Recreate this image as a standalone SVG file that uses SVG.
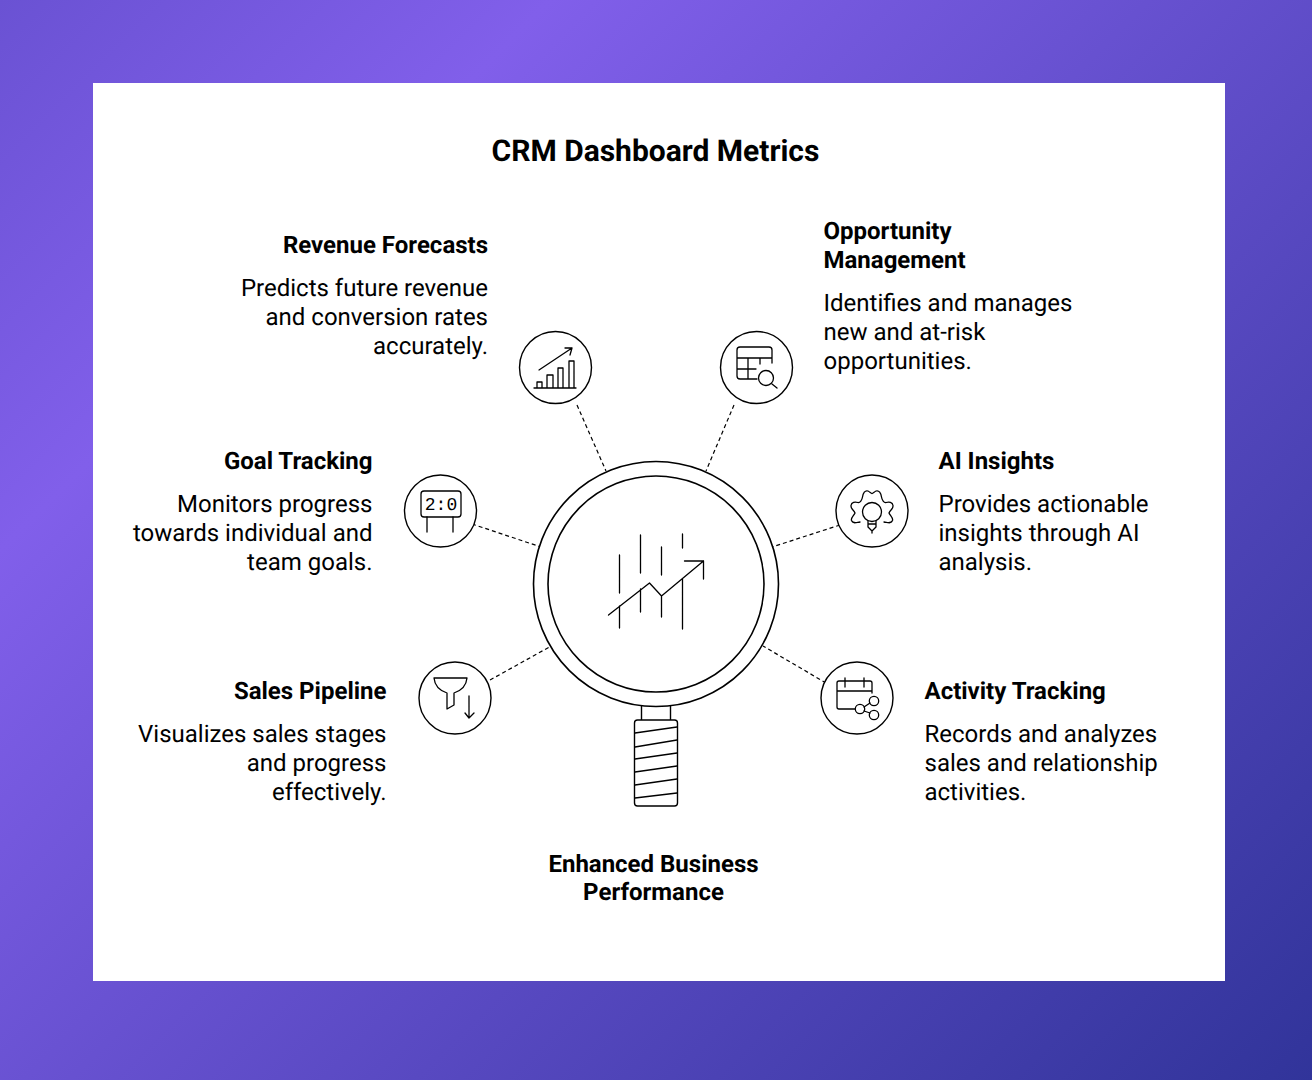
<svg xmlns="http://www.w3.org/2000/svg" width="1312" height="1080" viewBox="0 0 1312 1080">
<style>
text{font-family:Roboto,"Liberation Sans",sans-serif;fill:#000;text-rendering:geometricPrecision}
.t{font-size:30px;font-weight:700}
.h{font-size:24px;font-weight:700}
.b{font-size:24px;font-weight:400}
.e{text-anchor:end}
.m{text-anchor:middle}
.c{fill:#fff;stroke:#000;stroke-width:1.4}
.r{fill:#fff;stroke:#000;stroke-width:1.6}
.i{fill:none;stroke:#000;stroke-width:1.3;stroke-linecap:round;stroke-linejoin:round}
.d{fill:none;stroke:#000;stroke-width:1.2;stroke-dasharray:4 3}
</style>
<defs>
<linearGradient id="bg" gradientUnits="userSpaceOnUse" x1="58" y1="-58" x2="1254" y2="1138">
<stop offset="0" stop-color="#6a52d3"/>
<stop offset="0.23" stop-color="#815fea"/>
<stop offset="1" stop-color="#31349a"/>
</linearGradient>
</defs>
<rect width="1312" height="1080" fill="url(#bg)"/>
<rect x="93" y="83" width="1132" height="898" fill="#fff"/>
<text class="t m" x="655.5" y="160.500">CRM Dashboard Metrics</text>
<g id="connectors">
<path class="d" d="M577 405L606 471"/>
<path class="d" d="M734 405L706 471"/>
<path class="d" d="M472 524L541 547"/>
<path class="d" d="M840 525L772 547"/>
<path class="d" d="M490 680L553 645"/>
<path class="d" d="M826 683L763 646"/>
</g>
<g id="center">
<rect class="c" x="641.5" y="704" width="29" height="17"/>
<rect class="c" x="634.5" y="720" width="43" height="86" rx="3"/>
<path class="i" d="M635 733L677 727M635 747L677 740M635 759L677 753M635 772L677 766M635 785L677 779M635 798L677 793"/>
<circle class="r" cx="656" cy="584" r="122.5"/>
<circle class="r" cx="656" cy="584" r="108"/>
<path class="i" d="M608.500 615L649.500 583L661.500 596L703.500 561M684.500 561H703.500V579M619.500 555V593M619.500 606V628M640.500 535V573M640.500 589V612M661.500 547V575M661.500 596V617M682.500 534V548M682.500 579V629"/>
<text class="h m" x="653.500" y="872">Enhanced Business</text>
<text class="h m" x="653.500" y="900">Performance</text>
</g>
<g id="revenue-forecasts">
<circle class="c" cx="555.500" cy="367.500" r="36"/>
<path class="i" d="M539 370L572 348M565 348H572L570 355M534 388H576M537 388V382H542V388M547 388V375H553V388M558 388V368H563V388M569 388V361H574V388"/>
<text class="h e" x="488" y="253">Revenue Forecasts</text>
<text class="b e" x="488" y="296">Predicts future revenue</text>
<text class="b e" x="488" y="325">and conversion rates</text>
<text class="b e" x="488" y="354">accurately.</text>
</g>
<g id="opportunity-management">
<circle class="c" cx="756.500" cy="367.500" r="36"/>
<path class="i" d="M772 363V350a3 3 0 0 0-3-3H740a3 3 0 0 0-3 3V376a3 3 0 0 0 3 3H757M737 358H772M737 369H756M748 358V379M760 358V364M772 384L777 388"/>
<circle class="i" cx="766" cy="378" r="7.500"/>
<text class="h" x="823.500" y="239">Opportunity</text>
<text class="h" x="823.500" y="268">Management</text>
<text class="b" x="823.500" y="311">Identifies and manages</text>
<text class="b" x="823.500" y="340">new and at-risk</text>
<text class="b" x="823.500" y="369">opportunities.</text>
</g>
<g id="goal-tracking">
<circle class="c" cx="440.500" cy="511" r="36"/>
<rect class="i" x="421" y="491" width="40" height="26" rx="3"/>
<path class="i" d="M427 517V532M453 517V532"/>
<text x="441" y="510" text-anchor="middle" style="font-family:'Liberation Mono',monospace;font-size:18px">2:0</text>
<text class="h e" x="372.500" y="469">Goal Tracking</text>
<text class="b e" x="372.500" y="512">Monitors progress</text>
<text class="b e" x="372.500" y="541">towards individual and</text>
<text class="b e" x="372.500" y="570">team goals.</text>
</g>
<g id="ai-insights">
<circle class="c" cx="872" cy="511" r="36"/>
<path class="i" d="M860 522C856 522.500 853 524 851.500 520.500C850.500 518 854 515.500 855 513C854 510 850.500 509 851 505.500C851.500 502 855 501.500 858 502.500C860 503 862 500 862.500 497C863 493 865 490 868 491C870 492 871 493.500 872 493.500C873 493.500 874 492 876 491C879 490 881 493 881.500 497C882 500 884 503 886 502.500C889 501.500 892.500 502 893 505.500C893.500 509 890 510 889 513C890 515.500 893.500 518 892.500 520.500C891 524 888 522.500 884 522M868 521V527L872 531L876 527V521M868 524H876M872 531V533"/>
<circle class="i" cx="872" cy="512" r="9.500"/>
<text class="h" x="938.500" y="469">AI Insights</text>
<text class="b" x="938.500" y="512">Provides actionable</text>
<text class="b" x="938.500" y="541">insights through AI</text>
<text class="b" x="938.500" y="570">analysis.</text>
</g>
<g id="sales-pipeline">
<circle class="c" cx="455" cy="698" r="36"/>
<path class="i" d="M434 678H467Q466 689 454 693V705L447 709V693Q435 689 434 678ZM469 696V718M465 713L469 718L474 713"/>
<text class="h e" x="386.500" y="699">Sales Pipeline</text>
<text class="b e" x="386.500" y="742">Visualizes sales stages</text>
<text class="b e" x="386.500" y="771">and progress</text>
<text class="b e" x="386.500" y="800">effectively.</text>
</g>
<g id="activity-tracking">
<circle class="c" cx="857" cy="698" r="36"/>
<path class="i" d="M872 693V683a2 2 0 0 0-2-2H839a2 2 0 0 0-2 2V707a2 2 0 0 0 2 2H855M837 691H872M845 678V687M864 678V687M864 707L870 703M864 711L870 713"/>
<circle class="i" cx="860" cy="709" r="4.700"/>
<circle class="i" cx="874" cy="701" r="4.700"/>
<circle class="i" cx="874" cy="715" r="4.700"/>
<text class="h" x="924.500" y="699">Activity Tracking</text>
<text class="b" x="924.500" y="742">Records and analyzes</text>
<text class="b" x="924.500" y="771">sales and relationship</text>
<text class="b" x="924.500" y="800">activities.</text>
</g>
</svg>
